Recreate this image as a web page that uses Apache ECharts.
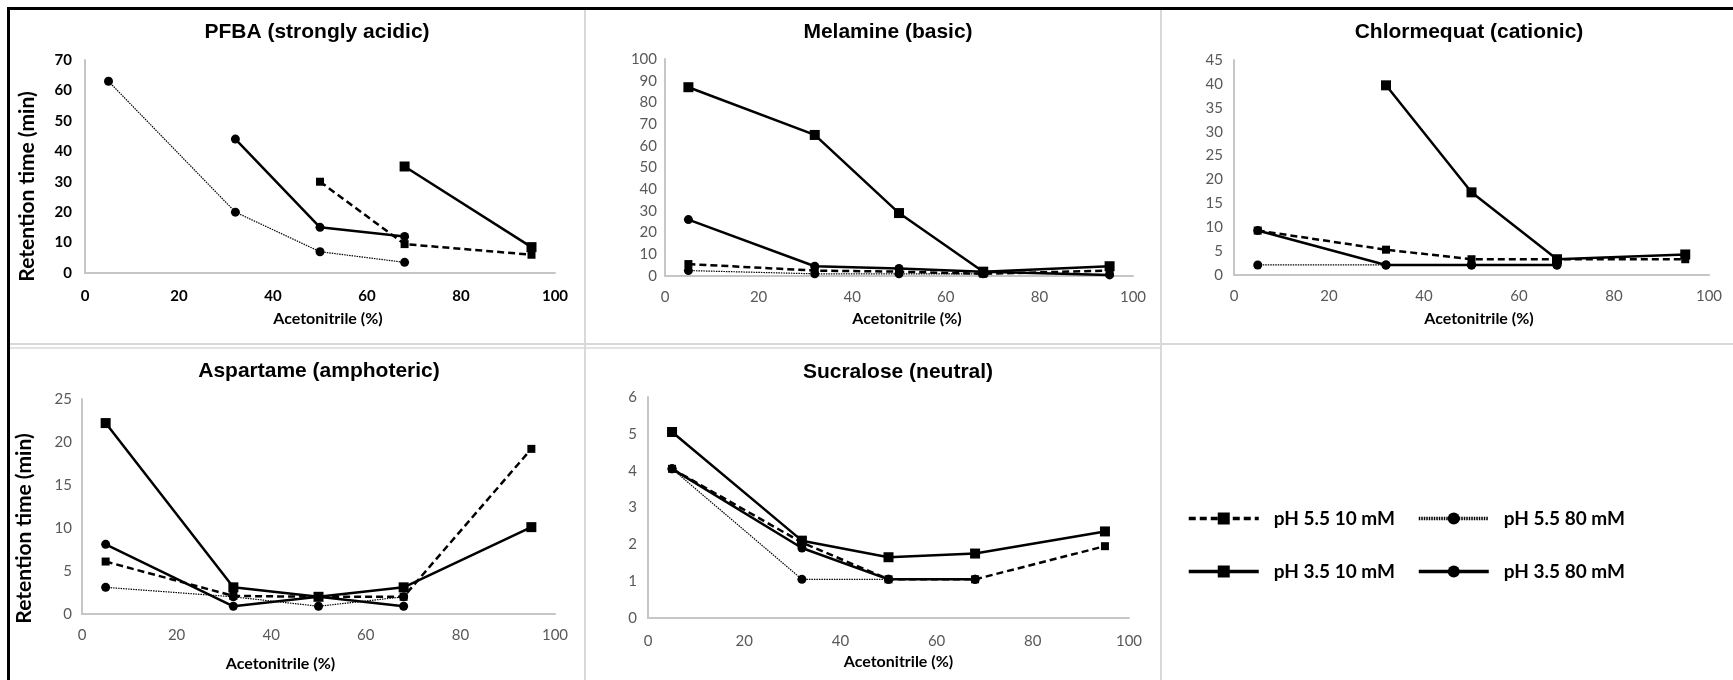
<!DOCTYPE html>
<html>
<head>
<meta charset="utf-8">
<script src="https://cdn.jsdelivr.net/npm/echarts@6/dist/echarts.min.js"></script>
<style>
  html, body { margin: 0; padding: 0; background: #fff; }
  #chart { width: 1733px; height: 680px; }
</style>
</head>
<body>
<div id="chart"></div>
<script>
// acetonitrile in the mobile phase (%)
const acn = [5, 32, 50, 68, 95];
const seriesNames = ['pH 5.5 10 mM', 'pH 5.5 80 mM', 'pH 3.5 10 mM', 'pH 3.5 80 mM'];
const panelTitles = ['PFBA (strongly acidic)', 'Melamine (basic)', 'Chlormequat (cationic)', 'Aspartame (amphoteric)', 'Sucralose (neutral)'];
const yMax = [70, 100, 45, 25, 6];
const yStep = [10, 10, 5, 5, 1];

// retention time (min), null = no point
const pfba_55_10 = [null, null, 30, 9.5, 6];
const pfba_55_80 = [63, 20, 7, 3.5, null];
const pfba_35_10 = [null, null, null, 35, 8.5];
const pfba_35_80 = [null, 44, 15, 12, null];

const melamine_55_10 = [5.5, 2.5, 2, 1, 2.5];
const melamine_55_80 = [2.5, 1, 1, 1, null];
const melamine_35_10 = [87, 65, 29, 2, 4.5];
const melamine_35_80 = [26, 4.5, 3.5, 2, 0.5];

const chlormequat_55_10 = [9.3, 5.3, 3.3, 3.3, 3.3];
const chlormequat_55_80 = [2.1, 2.1, 2.1, 2.1, null];
const chlormequat_35_10 = [null, 39.7, 17.3, 3.3, 4.3];
const chlormequat_35_80 = [9.3, 2.1, 2.1, 2.1, null];

const aspartame_55_10 = [6.1, 2.1, 2, 2, 19.2];
const aspartame_55_80 = [3.1, 2, 0.9, 2, null];
const aspartame_35_10 = [22.2, 3.1, 2, 3.1, 10.1];
const aspartame_35_80 = [8.1, 0.9, 2, 0.9, null];

const sucralose_55_10 = [4.05, 2.05, 1.05, 1.05, 1.95];
const sucralose_55_80 = [4.05, 1.05, 1.05, 1.05, null];
const sucralose_35_10 = [5.05, 2.1, 1.65, 1.75, 2.35];
const sucralose_35_80 = [4.05, 1.9, 1.05, 1.05, null];

const panelData = [
  [pfba_55_10, pfba_55_80, pfba_35_10, pfba_35_80],
  [melamine_55_10, melamine_55_80, melamine_35_10, melamine_35_80],
  [chlormequat_55_10, chlormequat_55_80, chlormequat_35_10, chlormequat_35_80],
  [aspartame_55_10, aspartame_55_80, aspartame_35_10, aspartame_35_80],
  [sucralose_55_10, sucralose_55_80, sucralose_35_10, sucralose_35_80]
];

// layout of the five plot areas
const grids = [
  { left: 85, top: 60, width: 470, height: 213 },
  { left: 665, top: 59, width: 468, height: 217 },
  { left: 1234, top: 60, width: 475, height: 215 },
  { left: 82, top: 399, width: 473, height: 215 },
  { left: 648, top: 397, width: 481, height: 221 }
];
const titlePos = [[317, 35], [888, 35], [1469, 35], [319, 374], [898, 375]];
const xNameGap = [38, 35, 36, 42, 36];
const xNameShift = [16, 16, 15, -76, 20];
const xLabelMargin = [16, 14, 14, 14, 16];
const yLabelMargin = [13, 8, 11, 10, 11];

const lineStyles = [
  { type: [7, 4], width: 2.5 },
  { type: [1.5, 1], width: 1.2 },
  { type: 'solid', width: 2.5 },
  { type: 'solid', width: 2.5 }
];
const symbols = ['rect', 'circle', 'rect', 'circle'];
const symbolSizes = [8, 9, 10, 9];

const gray = '#595959';
const axisGray = '#c6c6c6';
const tickFont = 'Lato';

let series = [];
panelData.forEach((rows, p) => {
  rows.forEach((vals, s) => {
    series.push({
      name: seriesNames[s],
      type: 'line',
      xAxisIndex: p,
      yAxisIndex: p,
      data: acn.map((x, i) => [x, vals[i]]).filter(d => d[1] !== null),
      symbol: symbols[s],
      symbolSize: symbolSizes[s],
      lineStyle: Object.assign({ color: '#000' }, lineStyles[s]),
      itemStyle: { color: '#000' },
      emphasis: { disabled: true },
      animation: false
    });
  });
});

let xAxes = grids.map((g, p) => ({
  gridIndex: p,
  type: 'value',
  min: 0, max: 100, interval: 20,
  name: 'Acetonitrile (%)',
  nameLocation: 'middle',
  nameGap: xNameGap[p],
  nameTextStyle: {
    fontFamily: tickFont, fontWeight: 'bold', fontSize: 16, color: '#000',
    padding: xNameShift[p] > 0 ? [0, 0, 0, xNameShift[p]] : [0, -xNameShift[p], 0, 0]
  },
  axisLine: { show: true, lineStyle: { color: axisGray, width: 2 } },
  axisTick: { show: false },
  splitLine: { show: false },
  axisLabel: {
    margin: xLabelMargin[p],
    fontFamily: tickFont, fontSize: 15,
    color: p === 0 ? '#000' : gray,
    fontWeight: p === 0 ? 'bold' : 'normal'
  }
}));

let yAxes = grids.map((g, p) => ({
  gridIndex: p,
  type: 'value',
  min: 0, max: yMax[p], interval: yStep[p],
  name: (p === 0 || p === 3) ? 'Retention time (min)' : '',
  nameLocation: 'middle',
  nameRotate: 90,
  nameGap: 47,
  nameTextStyle: {
    fontFamily: tickFont, fontWeight: 'bold', fontSize: 21, color: '#000',
    padding: [0, p === 0 ? 40 : 44, 0, 0]
  },
  axisLine: { show: true, lineStyle: { color: axisGray, width: 2 } },
  axisTick: { show: false },
  splitLine: { show: false },
  axisLabel: {
    margin: yLabelMargin[p],
    fontFamily: tickFont, fontSize: 15,
    color: p === 0 ? '#000' : gray,
    fontWeight: p === 0 ? 'bold' : 'normal'
  }
}));

let titles = panelTitles.map((t, p) => ({
  text: t,
  left: titlePos[p][0],
  top: titlePos[p][1] - 13,
  textAlign: 'center',
  padding: 0,
  textStyle: { fontFamily: 'Liberation Sans', fontWeight: 'bold', fontSize: 21, color: '#000' }
}));

let legendBase = {
  orient: 'horizontal',
  left: 1182,
  itemWidth: 70,
  itemHeight: 15,
  itemGap: 22,
  selectedMode: false,
  lineStyle: { width: 3.5 },
  textStyle: { fontFamily: tickFont, fontWeight: 'bold', fontSize: 19, color: '#000', padding: [0, 0, 0, 10] }
};

let option = {
  backgroundColor: '#fff',
  title: titles,
  legend: [
    Object.assign({}, legendBase, { top: 504, data: [seriesNames[0], seriesNames[1]] }),
    Object.assign({}, legendBase, { top: 557, data: [seriesNames[2], seriesNames[3]] })
  ],
  grid: grids,
  xAxis: xAxes,
  yAxis: yAxes,
  series: series,
  graphic: [
    // outer frame
    { type: 'line', shape: { x1: 7, y1: 8.5, x2: 1733, y2: 8.5 }, style: { stroke: '#000', lineWidth: 3 } },
    { type: 'line', shape: { x1: 8.5, y1: 7, x2: 8.5, y2: 680 }, style: { stroke: '#000', lineWidth: 3 } },
    // panel separators
    { type: 'line', shape: { x1: 10, y1: 344, x2: 1733, y2: 344 }, style: { stroke: '#d9d9d9', lineWidth: 2 } },
    { type: 'line', shape: { x1: 10, y1: 348, x2: 1160, y2: 348 }, style: { stroke: '#d9d9d9', lineWidth: 1.5 } },
    { type: 'line', shape: { x1: 585, y1: 10, x2: 585, y2: 680 }, style: { stroke: '#d9d9d9', lineWidth: 2 } },
    { type: 'line', shape: { x1: 1161, y1: 10, x2: 1161, y2: 680 }, style: { stroke: '#d9d9d9', lineWidth: 2 } }
  ]
};

const myChart = echarts.init(document.getElementById('chart'));
myChart.setOption(option, true);
</script>
</body>
</html>
